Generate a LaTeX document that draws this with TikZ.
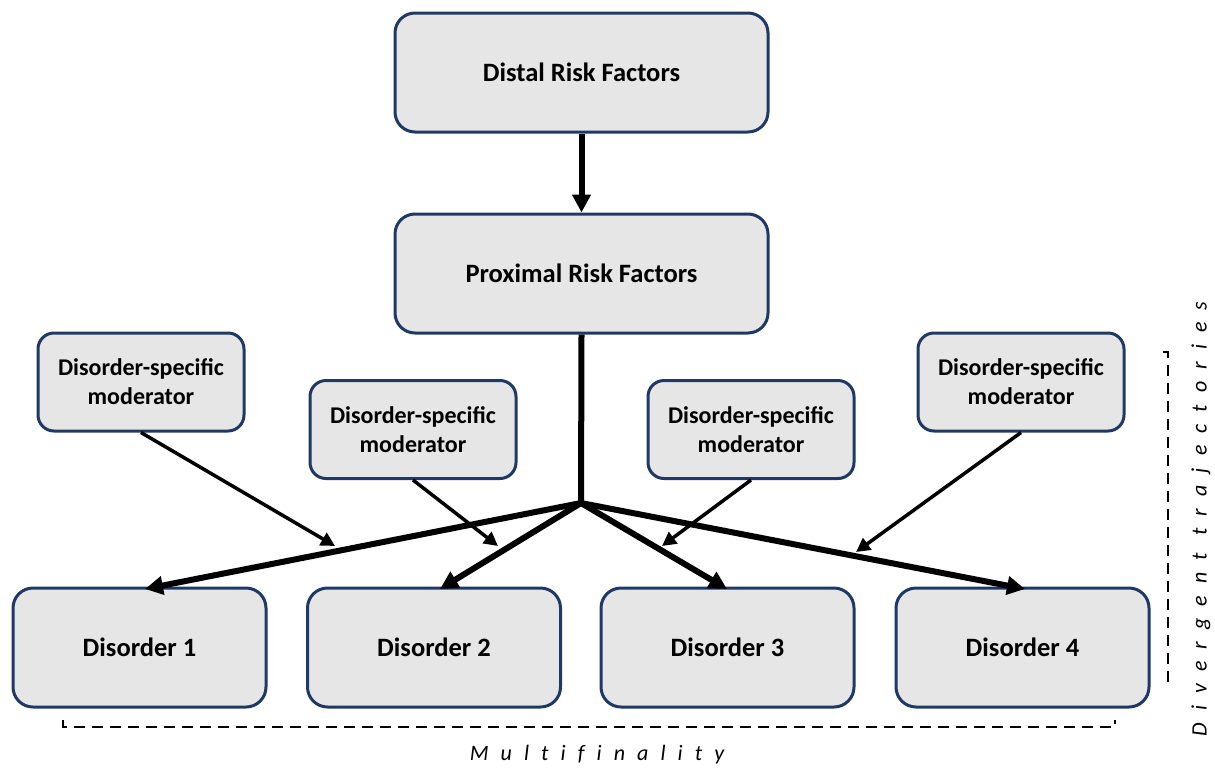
\documentclass[tikz,border=0pt]{standalone}
\usepackage{fontspec}
\setmainfont{Carlito}
\newfontfamily\spacedfont[LetterSpace=55,Ligatures=NoCommon]{Carlito}
\usetikzlibrary{arrows.meta}
\definecolor{boxline}{RGB}{31,56,100}
\definecolor{boxfill}{RGB}{230,230,230}
\tikzset{
  riskbox/.style={draw=boxline, fill=boxfill, line width=3pt, rounded corners=20pt,
    minimum width=373pt, minimum height=119pt, font=\bfseries\fontsize{26.5}{30}\selectfont},
  disbox/.style={riskbox, minimum width=253pt},
  modbox/.style={draw=boxline, fill=boxfill, line width=3pt, rounded corners=16pt,
    minimum width=206pt, minimum height=98pt, align=center,
    font=\bfseries\fontsize{24}{29}\selectfont},
  mainarrow/.style={line width=6pt, -{Triangle[length=18pt,width=18pt]}},
  modarrow/.style={line width=3.5pt, -{Triangle[length=14pt,width=14pt]}},
  bracket/.style={line width=1.5pt, dash pattern=on 11pt off 7pt},
  spacedlabel/.style={font=\spacedfont\itshape\fontsize{22}{26}\selectfont}
}
\begin{document}
\begin{tikzpicture}[x=1pt,y=-1pt]
  \useasboundingbox (0,0) rectangle (1215,769);
  % risk factors
  \node[riskbox] (distal) at (581.5,72.5) {Distal Risk Factors};
  \node[riskbox] (proximal) at (581.5,273.5) {Proximal Risk Factors};
  \draw[mainarrow] (distal) -- (proximal);
  % disorders
  \foreach \x [count=\i] in {139.5,434,727.5,1022.5}
    \node[disbox] (dis\i) at (\x,647.5) {Disorder \i};
  % moderators
  \foreach \x/\y [count=\i] in {141/382,413/429.5,751/429.5,1021/382}
    \node[modbox] (mod\i) at (\x,\y) {Disorder-specific\\moderator};
  % branching
  \coordinate (hub) at (581,503);
  \draw[line width=6pt] (proximal.south) -- (hub);
  \foreach \x [count=\i] in {145,440,727,1025}
    \draw[mainarrow, shorten <=-1pt] (hub) -- (\x,589);
  % moderator effects
  \coordinate (eff1) at (335,546);
  \coordinate (eff2) at (498,546);
  \coordinate (eff3) at (662,546);
  \coordinate (eff4) at (856,552);
  \foreach \i in {1,...,4}
    \draw[modarrow] (mod\i.south) -- (eff\i);
  % brackets
  \draw[bracket] (63,720) -- (63,727) -- (1115,727) -- (1115,720);
  \draw[bracket] (1163,352) -- (1168,352) -- (1168,683) -- (1163,683);
  \node[spacedlabel] (multi) at (597,755) {Multifinality};
  \node[spacedlabel, rotate=90] (diverg) at (1201,519) {Divergent trajectories};
\end{tikzpicture}
\end{document}
